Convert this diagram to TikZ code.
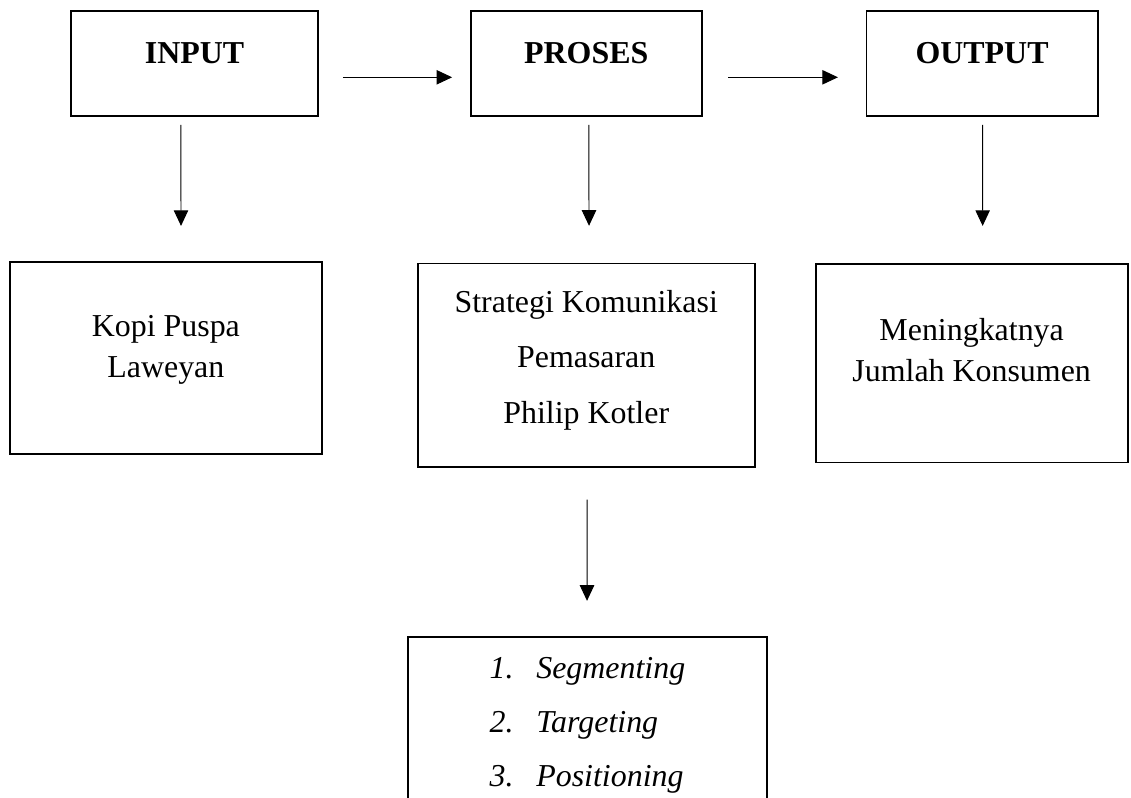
\documentclass[tikz,border=0pt]{standalone}
\usepackage{fontspec}
\setmainfont{Liberation Serif}
\usetikzlibrary{positioning, arrows.meta, calc}
\newcommand{\stpitem}[2]{\makebox[1.17cm][l]{#1}#2}
\tikzset{
  base/.style={draw=black, line width=1.3pt, inner sep=0pt, align=center},
  headbox/.style={base, minimum width=5.78cm, text height=1.325cm, text depth=1.3cm,
                  font=\fontsize{22.7}{29.5}\selectfont\bfseries},
  contentbox/.style={base, font=\fontsize{22.7}{29.5}\selectfont},
  listbox/.style={base, align=left, font=\fontsize{22.7}{38.4}\selectfont\itshape},
  arrow/.style={-{Triangle[length=0.39cm, width=0.36cm]}, draw=black, line width=0.7pt},
}
\begin{document}
\begin{tikzpicture}

\useasboundingbox (0,0) rectangle (28.275,-19.95);

%% ====================  TOP ROW  ====================

\node[headbox, minimum width=6.175cm] (input) at (4.8625,-1.5875) {INPUT};
\node[headbox, right=3.77cm of input] (proses) {PROSES};
\node[headbox, right=4.07cm of proses] (output) {OUTPUT};

%% ====================  SECOND ROW  ====================

\node[contentbox, minimum width=7.79cm, text height=2.9cm, text depth=1.9075cm,
      below=3.6cm of input, xshift=-0.716cm]
  (kopi) {Kopi Puspa\\Laweyan};

\node[contentbox, minimum width=8.425cm, text height=4.0cm, text depth=1.0825cm,
      font=\fontsize{22.7}{39.5}\selectfont, below=3.64cm of proses]
  (strategi) {Strategi Komunikasi\\Pemasaran\\Philip Kotler};

\node[contentbox, minimum width=7.8cm, text height=2.95cm, text depth=2.0175cm,
      below=3.65cm of output, xshift=-0.26cm]
  (meningkat) {Meningkatnya\\Jumlah Konsumen};

%% ====================  STP BOX  ====================

\node[listbox, minimum width=8.975cm, text height=3.7425cm, text depth=2cm,
      below=4.21cm of strategi, xshift=0.03cm]
  (stp) {\stpitem{1.}{Segmenting}\\ \stpitem{2.}{Targeting}\\ \stpitem{3.}{Positioning}};

%% ====================  ARROWS  ====================

\draw[arrow] ([xshift=0.6cm, yshift=-0.345cm]input.east) -- ([xshift=-0.44cm, yshift=-0.345cm]proses.west);
\draw[arrow] ([xshift=0.64cm, yshift=-0.345cm]proses.east) -- ([xshift=-0.69cm, yshift=-0.345cm]output.west);

\draw[arrow] ([xshift=-0.34cm, yshift=-0.2cm]input.south) -- ([xshift=0.379cm, yshift=0.875cm]kopi.north);
\draw[arrow] ([xshift=0.066cm, yshift=-0.2cm]proses.south) -- ([xshift=0.07cm, yshift=0.9175cm]strategi.north);
\draw[arrow] ([xshift=0.016cm, yshift=-0.2cm]output.south) -- ([xshift=0.275cm, yshift=0.925cm]meningkat.north);
\draw[arrow] ([xshift=0.02cm, yshift=-0.8cm]strategi.south) -- ([xshift=-0.01cm, yshift=0.88cm]stp.north);

\end{tikzpicture}
\end{document}
